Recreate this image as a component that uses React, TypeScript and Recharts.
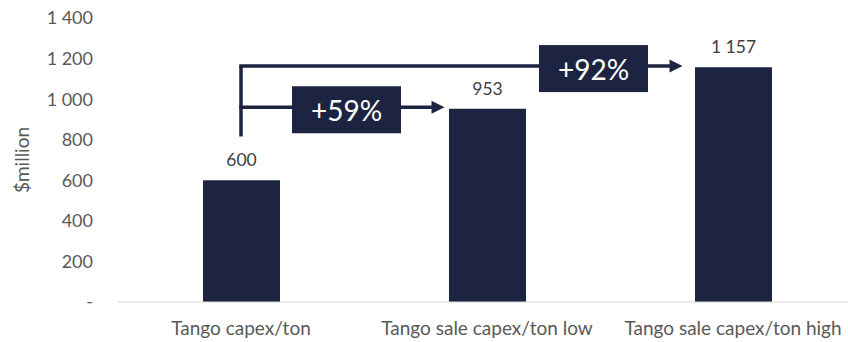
import React from 'react';
import { BarChart, Bar, XAxis, YAxis, LabelList, ReferenceLine } from 'recharts';

const categories = ['Tango capex/ton', 'Tango sale capex/ton low', 'Tango sale capex/ton high'];
const values = [600, 953, 1157];
const yTicks = [0, 200, 400, 600, 800, 1000, 1200, 1400];
const growthLabels = ['+59%', '+92%'];
const arrowLevels = [960, 1163];
const stemBottom = 816;

const data = categories.map((c, i) => ({ name: c, value: values[i] }));

const NAVY = '#1C2441';
const FONT = 'Lato, "Open Sans", sans-serif';

const fmt = (v: number) => (v === 0 ? '-' : String(v).replace(/\B(?=(\d{3})+(?!\d))/g, ' '));

const makeArrow = (label: string, gap: number, boxOffset: number) => (props: any) => {
  const { x1, y1, x2 } = props;
  const y = y1;
  const tip = x2 - 38.5 - gap;
  const head = 13;
  const boxW = 109;
  const boxH = 47;
  const bcx = tip + boxOffset;
  return (
    <g>
      <line x1={x1 - 1.75} y1={y} x2={tip - head + 1} y2={y} stroke={NAVY} strokeWidth={3.5} />
      <polygon points={`${tip},${y} ${tip - head},${y - 6.5} ${tip - head},${y + 6.5}`} fill={NAVY} />
      <rect x={bcx - boxW / 2} y={y + 2.5 - boxH / 2} width={boxW} height={boxH} fill={NAVY} />
      <text x={bcx} y={y + 3} textAnchor="middle" dominantBaseline="central" fill="#FFFFFF" fontSize={28} fontFamily={FONT}>
        {label}
      </text>
    </g>
  );
};

const stemShape = (props: any) => {
  const { x1, y1, x2, y2 } = props;
  return <line x1={x1} y1={y1} x2={x2} y2={y2} stroke={NAVY} strokeWidth={3.5} />;
};

export default function App() {
  return (
    <div style={{ position: 'fixed', left: 0, top: 0, width: 848, height: 342, overflow: 'hidden', background: '#fff' }}>
      <BarChart width={860} height={342} data={data} margin={{ top: 18, right: 4, bottom: 8, left: 0 }}>
        <XAxis
          dataKey="name"
          height={32}
          axisLine={{ stroke: '#D9D9D9' }}
          tickLine={false}
          tickMargin={14}
          tick={{ fill: '#595959', fontSize: 19, fontFamily: FONT }}
          interval={0}
        />
        <YAxis
          width={118}
          domain={[0, 1400]}
          ticks={yTicks}
          axisLine={false}
          tickLine={false}
          tickMargin={19}
          tickFormatter={fmt}
          tick={{ fill: '#595959', fontSize: 18, fontFamily: FONT }}
          label={{
            content: (p: any) => {
              const vb = p.viewBox || {};
              const cx = vb.x + 21;
              const cy = vb.y + vb.height / 2;
              return (
                <text
                  x={cx}
                  y={cy}
                  transform={`rotate(-90 ${cx} ${cy})`}
                  textAnchor="middle"
                  dominantBaseline="central"
                  fill="#595959"
                  fontSize={19}
                  fontFamily={FONT}
                >
                  $million
                </text>
              );
            },
          }}
        />
        <Bar dataKey="value" fill={NAVY} barSize={77} isAnimationActive={false}>
          <LabelList dataKey="value" position="top" offset={14} formatter={(v: any) => fmt(Number(v))} fill="#404040" fontSize={17.5} fontFamily={FONT} />
        </Bar>
        <ReferenceLine
          segment={[{ x: categories[0], y: stemBottom }, { x: categories[0], y: arrowLevels[1] }]}
          shape={stemShape}
          ifOverflow="visible"
        />
        <ReferenceLine
          segment={[{ x: categories[0], y: arrowLevels[0] }, { x: categories[1], y: arrowLevels[0] }]}
          shape={makeArrow(growthLabels[0], 4, -98)}
          ifOverflow="visible"
        />
        <ReferenceLine
          segment={[{ x: categories[0], y: arrowLevels[1] }, { x: categories[2], y: arrowLevels[1] }]}
          shape={makeArrow(growthLabels[1], 12, -89)}
          ifOverflow="visible"
        />
      </BarChart>
    </div>
  );
}
